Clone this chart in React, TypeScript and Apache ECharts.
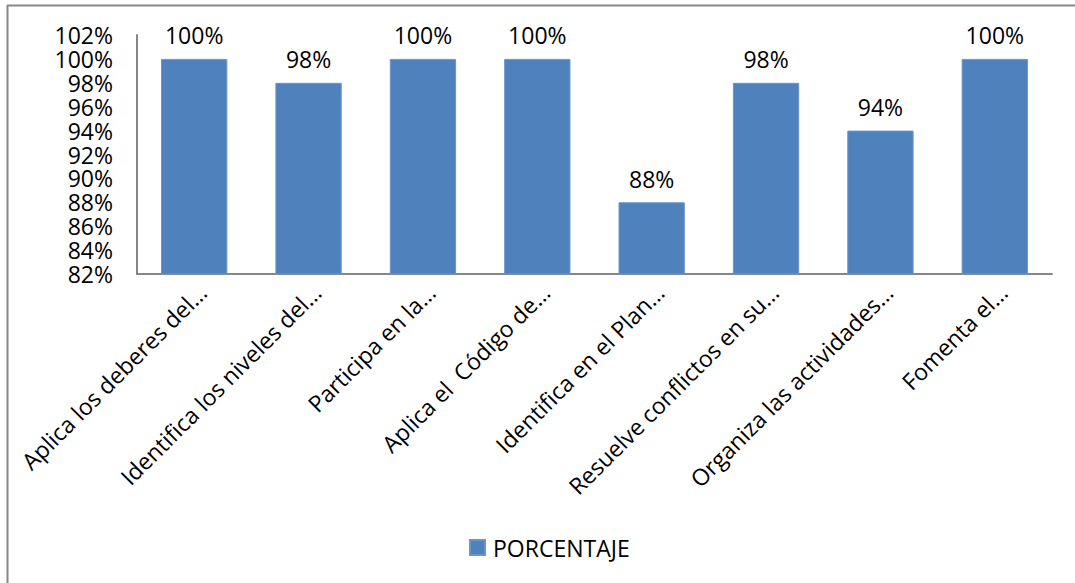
import React, { useEffect, useRef } from "react";
import * as echarts from "echarts";

const categories = [
  "Aplica los deberes del…",
  "Identifica los niveles del…",
  "Participa en la…",
  "Aplica el  Código de…",
  "Identifica en el Plan…",
  "Resuelve conflictos en su…",
  "Organiza las actividades…",
  "Fomenta el…",
];
const porcentaje = [100, 98, 100, 100, 88, 98, 94, 100];
const seriesName = "PORCENTAJE";
const yMin = 82;
const yMax = 102;
const yStep = 2;

const FONT = "Open Sans";
const FS = 23;

export default function App() {
  const ref = useRef<HTMLDivElement>(null);
  useEffect(() => {
    if (!ref.current) return;
    const chart = echarts.init(ref.current, undefined, { renderer: "svg" });
    chart.setOption({
      animation: false,
      backgroundColor: "#ffffff",
      textStyle: { fontFamily: FONT },
      graphic: [
        { type: "line", shape: { x1: 7, y1: 5.5, x2: 1075, y2: 5.5 }, style: { stroke: "#878787", lineWidth: 2 } },
        { type: "line", shape: { x1: 7.5, y1: 5, x2: 7.5, y2: 583 }, style: { stroke: "#878787", lineWidth: 2 } },
      ],
      grid: { left: 137, right: 23, top: 35, bottom: 309, containLabel: false },
      legend: {
        bottom: 19,
        left: 464,
        itemWidth: 15,
        itemHeight: 15,
        icon: "rect",
        textStyle: { fontFamily: FONT, fontSize: FS, color: "#000", padding: [0, 0, 0, 3] },
        data: [seriesName],
      },
      xAxis: {
        type: "category",
        data: categories,
        axisLine: { lineStyle: { color: "#868686", width: 2 } },
        axisTick: { show: false },
        axisLabel: {
          rotate: 45,
          interval: 0,
          fontFamily: FONT,
          fontSize: FS,
          color: "#000",
          margin: 6,
          verticalAlign: "top",
        },
      },
      yAxis: {
        type: "value",
        min: yMin,
        max: yMax,
        interval: yStep,
        splitLine: { show: false },
        axisTick: { show: false },
        axisLine: { show: true, lineStyle: { color: "#868686", width: 2 } },
        axisLabel: {
          formatter: (v: number) => `${v}%`,
          fontFamily: FONT,
          fontSize: FS,
          lineHeight: 23,
          color: "#000",
          margin: 24,
        },
      },
      series: [
        {
          name: seriesName,
          type: "bar",
          data: porcentaje,
          barWidth: "58%",
          itemStyle: { color: "#4F81BD", borderColor: "#6A96CB", borderWidth: 1 },
          label: {
            show: true,
            position: "top",
            distance: 12,
            formatter: (p: any) => `${p.value}%`,
            fontFamily: FONT,
            fontSize: FS,
            color: "#000",
          },
        },
      ],
    });
    return () => chart.dispose();
  }, []);
  return <div ref={ref} style={{ width: 1075, height: 583, position: "absolute", left: 0, top: 0 }} />;
}
